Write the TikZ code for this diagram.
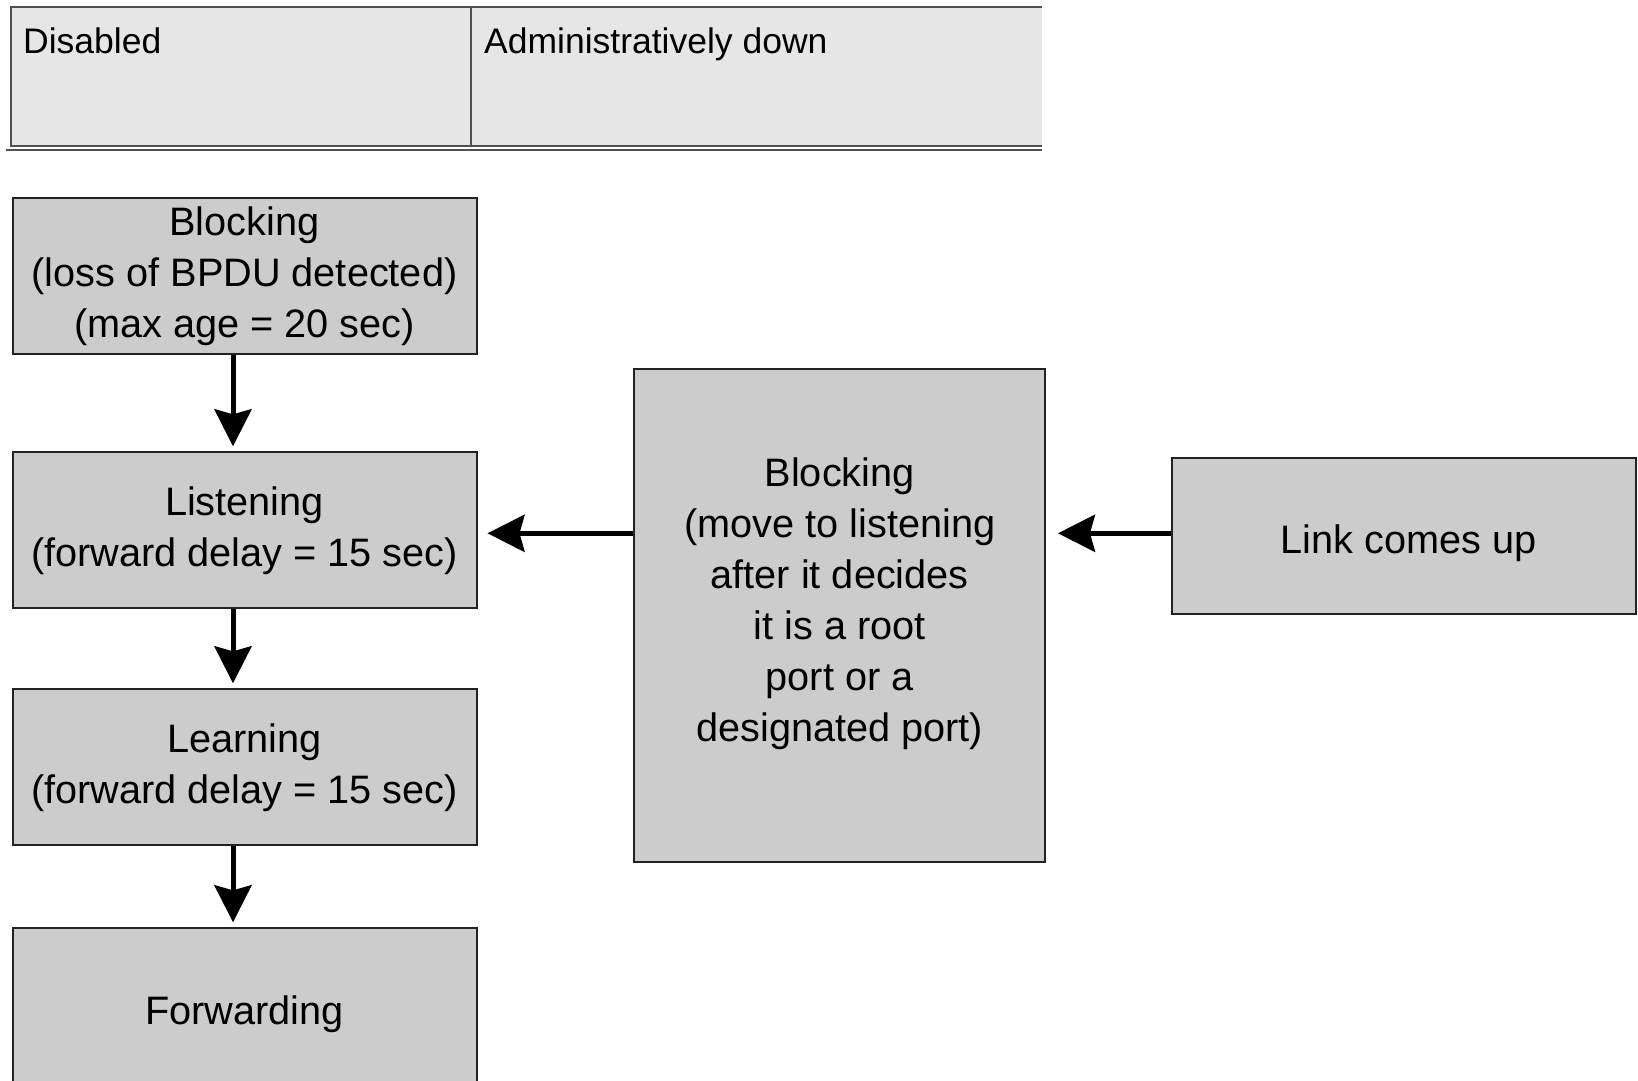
\documentclass[tikz,border=0pt]{standalone}
\usepackage{fontspec}
\setmainfont{Liberation Sans}
\usetikzlibrary{arrows.meta,positioning,calc}
\definecolor{BoxGray}{RGB}{204,204,204}
\definecolor{CellGray}{RGB}{230,230,230}
\definecolor{EdgeDark}{RGB}{34,34,34}
\definecolor{RuleGray}{RGB}{80,80,80}
\tikzset{
  statebox/.style={
    draw=EdgeDark,
    fill=BoxGray,
    line width=2pt,
    minimum width=464pt,
    minimum height=156pt,
    align=center,
    inner sep=0pt,
    font=\fontsize{39.7}{51}\selectfont
  },
  boxtext/.style={align=center,inner sep=0pt,font=\fontsize{39.7}{51}\selectfont},
  celltext/.style={inner sep=0pt,anchor=base west,font=\fontsize{35.5}{42}\selectfont},
  rule/.style={draw=RuleGray,line width=2pt},
  flow/.style={-{Stealth[length=37pt,width=37pt,inset=5pt]},line width=5pt,draw=black}
}

\begin{document}
\begin{tikzpicture}[x=1pt,y=-1pt]
  \useasboundingbox (0,0) rectangle (1638,1081);

  % port state table
  \fill[CellGray] (11,6.7) rectangle (1042.3,145.7);
  \draw[rule] (1042.3,6.7) -- (11,6.7) -- (11,145.7) -- (1042.3,145.7);
  \draw[rule] (470.7,6.7) -- (470.7,145.7);
  \draw[rule] (6,150) -- (1042.3,150);
  \node[celltext] (disabled) at (23,53) {Disabled};
  \node[celltext] (admdown) at (484,53) {Administratively down};

  % states
  \node[statebox] (block) at (244.5,276.3) {Blocking\\(loss of BPDU detected)\\(max age = 20 sec)};
  \node[statebox,below=96pt of block] (listen) {Listening\\(forward delay = 15 sec)};
  \node[statebox,below=79pt of listen] (learn) {Learning\\(forward delay = 15 sec)};
  \node[statebox,below=81pt of learn,minimum height=172pt] (fwd) {Forwarding};

  \node[statebox,minimum width=410.5pt,minimum height=492.8pt] (decide) at (839.7,615.4) {};
  \node[boxtext] (decidetxt) at ([yshift=12pt]decide.center)
    {Blocking\\(move to listening\\after it decides\\it is a root\\port or a\\designated port)};
  \node[statebox] (link) at (1403.6,536.3) {};
  \node[boxtext] (linktxt) at ([xshift=5pt,yshift=-7pt]link.center) {Link comes up};

  % transitions
  \draw[flow,shorten >=5pt] ([xshift=-11.5pt]block.south) -- ([xshift=-11.5pt]listen.north);
  \draw[flow,shorten >=5pt] ([xshift=-11.5pt]listen.south) -- ([xshift=-11.5pt]learn.north);
  \draw[flow,shorten >=5pt] ([xshift=-11.5pt]learn.south) -- ([xshift=-11.5pt]fwd.north);

  \coordinate (linkout) at ([yshift=3pt]link.west);
  \coordinate (decideout) at (linkout -| decide.west);
  \draw[flow,shorten >=12pt] (linkout) -- (linkout -| decide.east);
  \draw[flow,shorten >=10pt] (decideout) -- (decideout -| listen.east);
\end{tikzpicture}
\end{document}
